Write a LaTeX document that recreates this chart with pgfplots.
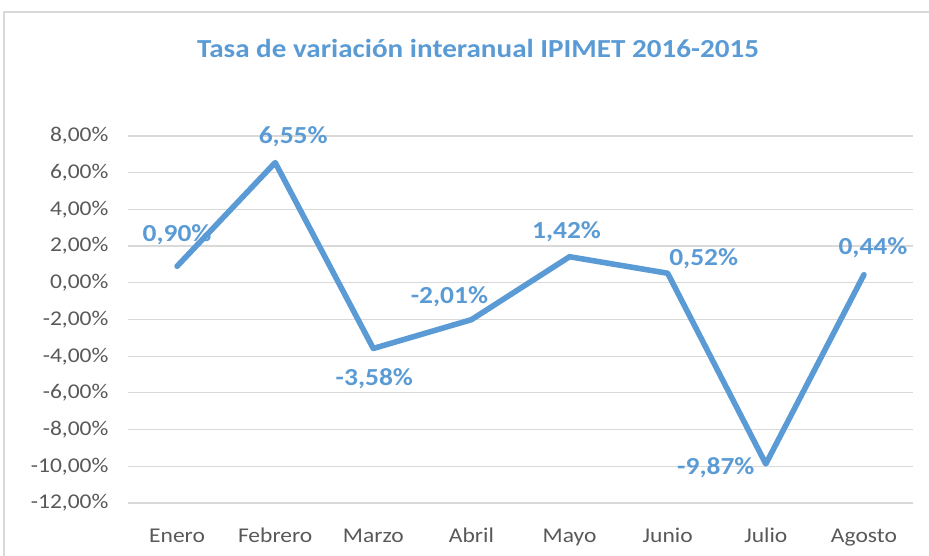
\documentclass[border=0pt]{standalone}
\usepackage{fontspec}
\setmainfont{Carlito}[FakeStretch=1.12]
\usepackage{pgfplots}
\pgfplotsset{compat=1.18}
\definecolor{cblue}{HTML}{5B9BD5}
\definecolor{ctext}{HTML}{595959}
\definecolor{cgrid}{HTML}{D9D9D9}
\begin{document}
\begin{tikzpicture}[x=1pt,y=1pt]
\useasboundingbox (0pt,0pt) rectangle (929pt,556pt);
\draw[cgrid, line width=1.5pt] (4pt,0pt) -- (4pt,544pt) -- (929pt,544pt);
\node[font=\fontsize{26}{30}\selectfont\bfseries, text=cblue] at (478pt,508pt) {Tasa de variación interanual IPIMET 2016-2015};
\begin{axis}[
  at={(177.06pt,273.2pt)}, anchor=origin, scale only axis,
  width=785pt, height=367pt,
  xmin=-0.5, xmax=7.5, ymin=-12, ymax=8,
  ytick={-12,-10,...,8}, xtick={0,...,7},
  xticklabels={Enero,Febrero,Marzo,Abril,Mayo,Junio,Julio,Agosto},
  axis line style={draw=none}, tick style={draw=none},
  ymajorgrids, grid style={cgrid, line width=1.2pt},
  /pgf/number format/assume math mode=true,
  ticklabel style={font=\fontsize{21}{24}\selectfont, text=ctext},
  yticklabel={\pgfmathprintnumber[fixed,fixed zerofill,precision=2,use comma]{\tick}\%},
  yticklabel style={anchor=east, xshift=-16pt},
  xticklabel style={anchor=base, yshift=-40pt},
  clip=false,
]
\addplot[cblue, line width=5.6pt, line join=round, line cap=round,
  point meta=explicit,
  visualization depends on={value \thisrow{dx} \as \dx},
  visualization depends on={value \thisrow{dy} \as \dy},
  nodes near coords={\pgfmathprintnumber[fixed,fixed zerofill,precision=2,use comma,assume math mode=true]{\pgfplotspointmeta}\%},
  every node near coord/.append style={anchor=center, xshift=\dx pt, yshift=\dy pt, font=\fontsize{24.5}{28}\selectfont\bfseries, text=cblue},
] table[x=x, y=y, meta=y] {
x y dx dy
0 0.90 0 32
1 6.55 18 26
2 -3.58 1 -30
3 -2.01 -22 23
4 1.42 -3 25
5 0.52 36 15
6 -9.87 -50 -4
7 0.44 9 27
};
\end{axis}
\end{tikzpicture}
\end{document}
